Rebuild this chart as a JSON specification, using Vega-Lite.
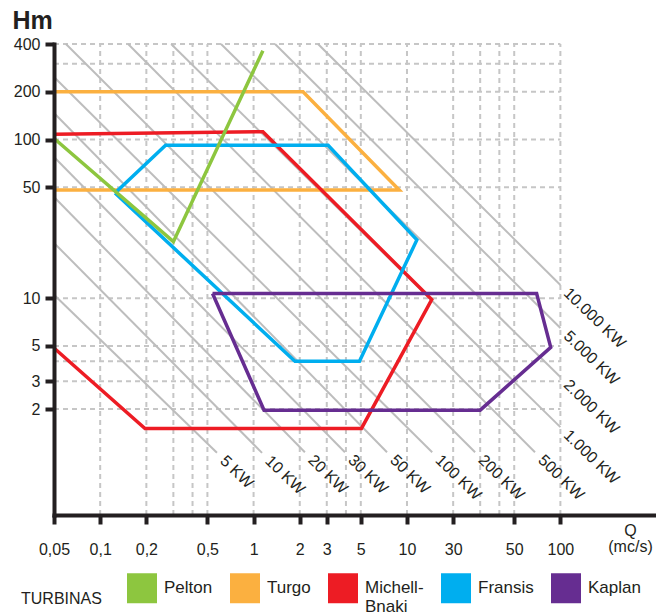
{
  "$schema": "https://vega.github.io/schema/vega-lite/v6.json",
  "width": 602,
  "height": 471,
  "autosize": {"type": "none"},
  "padding": {"left": 54, "top": 44, "right": 0, "bottom": 100},
  "background": "white",
  "config": {
    "font": "Liberation Sans",
    "view": {"stroke": null},
    "legend": {"padding": 0}
  },
  "datasets": {
    "gridH": [{"H": 2}, {"H": 3}, {"H": 4}, {"H": 5}, {"H": 10}, {"H": 50}, {"H": 100}, {"H": 200}, {"H": 300}, {"H": 400}],
    "gridV": [{"Q": 0.1}, {"Q": 0.2}, {"Q": 0.3}, {"Q": 0.4}, {"Q": 0.5}, {"Q": 1}, {"Q": 2}, {"Q": 3}, {"Q": 4}, {"Q": 5}, {"Q": 10}, {"Q": 20}, {"Q": 30}, {"Q": 40}, {"Q": 50}, {"Q": 100}],
    "power": [
      {"kw": "5 KW", "pt": "start", "Q": 0.05, "H": 10.5},
      {"kw": "5 KW", "pt": "end", "Q": 0.577, "H": 1.06},
      {"kw": "10 KW", "pt": "start", "Q": 0.05, "H": 22.3},
      {"kw": "10 KW", "pt": "end", "Q": 1.135, "H": 1.06},
      {"kw": "20 KW", "pt": "start", "Q": 0.05, "H": 43.4},
      {"kw": "20 KW", "pt": "end", "Q": 2.16, "H": 1.07},
      {"kw": "30 KW", "pt": "start", "Q": 0.05, "H": 77.6},
      {"kw": "30 KW", "pt": "end", "Q": 3.94, "H": 1.07},
      {"kw": "50 KW", "pt": "start", "Q": 0.05, "H": 147},
      {"kw": "50 KW", "pt": "end", "Q": 7.41, "H": 1.07},
      {"kw": "100 KW", "pt": "start", "Q": 0.05, "H": 248},
      {"kw": "100 KW", "pt": "end", "Q": 14.6, "H": 1.07},
      {"kw": "200 KW", "pt": "start", "Q": 0.0598, "H": 400},
      {"kw": "200 KW", "pt": "end", "Q": 27.8, "H": 1.07},
      {"kw": "500 KW", "pt": "start", "Q": 0.152, "H": 400},
      {"kw": "500 KW", "pt": "end", "Q": 68.3, "H": 1.07},
      {"kw": "1.000 KW", "pt": "start", "Q": 0.29, "H": 400},
      {"kw": "1.000 KW", "pt": "end", "Q": 100, "H": 1.54},
      {"kw": "2.000 KW", "pt": "start", "Q": 0.613, "H": 400},
      {"kw": "2.000 KW", "pt": "end", "Q": 100, "H": 3.19},
      {"kw": "5.000 KW", "pt": "start", "Q": 1.38, "H": 400},
      {"kw": "5.000 KW", "pt": "end", "Q": 100, "H": 6.49},
      {"kw": "10.000 KW", "pt": "start", "Q": 2.63, "H": 400},
      {"kw": "10.000 KW", "pt": "end", "Q": 100, "H": 12.1}
    ],
    "turbines": [
      {"turbina": "Turgo", "ord": 1, "Q": 0.05, "H": 200},
      {"turbina": "Turgo", "ord": 2, "Q": 2.1, "H": 200},
      {"turbina": "Turgo", "ord": 3, "Q": 8.9, "H": 48},
      {"turbina": "Turgo", "ord": 4, "Q": 0.05, "H": 48},
      {"turbina": "Michell-Bnaki", "ord": 1, "Q": 0.05, "H": 108},
      {"turbina": "Michell-Bnaki", "ord": 2, "Q": 1.15, "H": 112},
      {"turbina": "Michell-Bnaki", "ord": 3, "Q": 14.5, "H": 9.8},
      {"turbina": "Michell-Bnaki", "ord": 4, "Q": 5.05, "H": 1.51},
      {"turbina": "Michell-Bnaki", "ord": 5, "Q": 0.196, "H": 1.51},
      {"turbina": "Michell-Bnaki", "ord": 6, "Q": 0.05, "H": 4.85},
      {"turbina": "Fransis", "ord": 1, "Q": 0.125, "H": 46},
      {"turbina": "Fransis", "ord": 2, "Q": 0.267, "H": 92},
      {"turbina": "Fransis", "ord": 3, "Q": 3.06, "H": 92},
      {"turbina": "Fransis", "ord": 4, "Q": 11.6, "H": 23.3},
      {"turbina": "Fransis", "ord": 5, "Q": 4.9, "H": 4},
      {"turbina": "Fransis", "ord": 6, "Q": 1.86, "H": 4},
      {"turbina": "Fransis", "ord": 7, "Q": 0.125, "H": 46},
      {"turbina": "Kaplan", "ord": 1, "Q": 0.54, "H": 10.7},
      {"turbina": "Kaplan", "ord": 2, "Q": 70, "H": 10.7},
      {"turbina": "Kaplan", "ord": 3, "Q": 86.5, "H": 4.9},
      {"turbina": "Kaplan", "ord": 4, "Q": 30, "H": 1.97},
      {"turbina": "Kaplan", "ord": 5, "Q": 1.17, "H": 1.97},
      {"turbina": "Kaplan", "ord": 6, "Q": 0.54, "H": 10.7},
      {"turbina": "Pelton", "ord": 1, "Q": 0.051, "H": 100},
      {"turbina": "Pelton", "ord": 2, "Q": 0.3, "H": 22.7},
      {"turbina": "Pelton", "ord": 3, "Q": 1.15, "H": 363}
    ]
  },
  "layer": [
    {
      "data": {"name": "gridH"},
      "mark": {"type": "rule", "color": "#c6c6c6", "strokeWidth": 2, "strokeDash": [5, 4]},
      "encoding": {
        "y": {"field": "H", "type": "quantitative", "scale": {"type": "log", "domain": [0.43, 400], "nice": false}},
        "x": {"datum": 0.05, "type": "quantitative", "scale": {"type": "log", "domain": [0.05, 420], "nice": false}},
        "x2": {"datum": 100}
      }
    },
    {
      "data": {"name": "gridV"},
      "mark": {"type": "rule", "color": "#c6c6c6", "strokeWidth": 2, "strokeDash": [5, 4]},
      "encoding": {
        "x": {"field": "Q", "type": "quantitative", "scale": {"type": "log", "domain": [0.05, 420], "nice": false}},
        "y": {"datum": 0.43, "type": "quantitative", "scale": {"type": "log", "domain": [0.43, 400], "nice": false}},
        "y2": {"datum": 400}
      }
    },
    {
      "data": {"name": "power"},
      "mark": {"type": "line", "color": "#bdbdbd", "strokeWidth": 2},
      "encoding": {
        "x": {"field": "Q", "type": "quantitative", "scale": {"type": "log", "domain": [0.05, 420], "nice": false}},
        "y": {"field": "H", "type": "quantitative", "scale": {"type": "log", "domain": [0.43, 400], "nice": false}},
        "detail": {"field": "kw"}
      }
    },
    {
      "data": {"name": "turbines"},
      "mark": {"type": "line", "strokeWidth": 3.5, "strokeJoin": "miter"},
      "encoding": {
        "x": {
          "field": "Q", "type": "quantitative",
          "scale": {"type": "log", "domain": [0.05, 420], "nice": false},
          "axis": {
            "values": [0.05, 0.1, 0.2, 0.5, 1, 2, 3, 5, 10, 20, 50, 100],
            "labelExpr": "datum.value == 20 ? '30' : replace(toString(datum.value), '.', ',')",
            "grid": false, "zindex": 1,
            "domainColor": "#231f20", "domainWidth": 4, "domainCap": "square",
            "tickColor": "#231f20", "tickWidth": 4, "tickSize": 9,
            "labelFontSize": 16, "labelColor": "#231f20", "labelPadding": 17, "labelFlush": false, "labelOverlap": false,
            "title": ["Q", "(mc/s)"], "titleFontSize": 16, "titleFontWeight": "normal", "titleColor": "#231f20",
            "titleAlign": "center", "titleBaseline": "top", "titleX": 576, "titleY": 7, "titleLineHeight": 16
          }
        },
        "y": {
          "field": "H", "type": "quantitative",
          "scale": {"type": "log", "domain": [0.43, 400], "nice": false},
          "axis": {
            "values": [2, 3, 5, 10, 50, 100, 200, 400],
            "labelExpr": "toString(datum.value)",
            "grid": false, "zindex": 1,
            "domainColor": "#231f20", "domainWidth": 4, "domainCap": "square",
            "tickColor": "#231f20", "tickWidth": 4, "tickSize": 9,
            "labelFontSize": 16, "labelColor": "#231f20", "labelPadding": 5, "labelOverlap": false,
            "title": "Hm", "titleAngle": 0, "titleAlign": "left", "titleBaseline": "alphabetic",
            "titleX": -42, "titleY": -16, "titleFontSize": 25, "titleFontWeight": "bold", "titleColor": "#231f20"
          }
        },
        "order": {"field": "ord", "type": "quantitative"},
        "color": {
          "field": "turbina", "type": "nominal",
          "scale": {"domain": ["Pelton", "Turgo", "Michell-Bnaki", "Fransis", "Kaplan"], "range": ["#8dc63f", "#fbb040", "#ed1c24", "#00aeef", "#662d91"]},
          "legend": {
            "orient": "none", "legendX": -33, "legendY": 529, "direction": "horizontal",
            "title": "TURBINAS", "titleOrient": "left", "titleAnchor": "middle", "titleBaseline": "middle",
            "titleFontSize": 16, "titleFontWeight": "normal", "titleColor": "#231f20", "titlePadding": 25,
            "symbolType": "square", "symbolSize": 225, "symbolStrokeWidth": 15, "symbolOpacity": 1,
            "labelFontSize": 17, "labelColor": "#231f20", "labelOffset": 7, "columnPadding": -6, "labelLineHeight": 15,
            "labelExpr": "datum.label == 'Michell-Bnaki' ? ['Michell-', 'Bnaki'] : datum.label",
            "labelLimit": 0
          }
        }
      }
    },
    {
      "data": {"name": "power"},
      "transform": [{"filter": "datum.pt == 'end'"}],
      "mark": {"type": "text", "angle": 44, "align": "left", "baseline": "middle", "dx": 8, "fontSize": 16, "color": "#231f20"},
      "encoding": {
        "x": {"field": "Q", "type": "quantitative", "scale": {"type": "log", "domain": [0.05, 420], "nice": false}},
        "y": {"field": "H", "type": "quantitative", "scale": {"type": "log", "domain": [0.43, 400], "nice": false}},
        "text": {"field": "kw"}
      }
    }
  ]
}
